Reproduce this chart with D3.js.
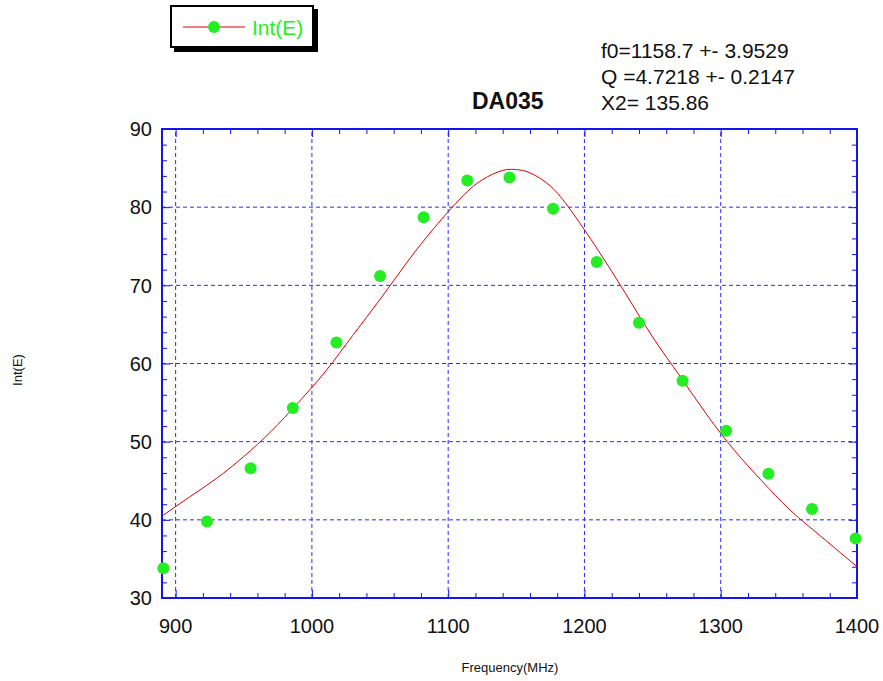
<!DOCTYPE html>
<html>
<head>
<meta charset="utf-8">
<script src="https://cdn.jsdelivr.net/npm/d3@7"></script>
<style>
  body { margin: 0; background: #fff; }
  svg text { font-family: "Liberation Sans", Arial, sans-serif; }
</style>
</head>
<body>
<div id="chart"></div>
<script>
// measured points
var freq = [891, 923, 955, 986, 1018, 1050, 1082, 1114, 1145, 1177, 1209, 1240, 1272, 1304, 1335, 1367, 1399];
var intE = [33.8, 39.8, 46.6, 54.3, 62.7, 71.2, 78.7, 83.4, 83.8, 79.8, 73.0, 65.2, 57.8, 51.4, 45.9, 41.4, 37.6];

// fitted curve
var fitFreq = [891, 910, 930, 950, 970, 990, 1010, 1030, 1050, 1070, 1090, 1110, 1125, 1140, 1150, 1160, 1175, 1190, 1210, 1230, 1250, 1270, 1290, 1310, 1330, 1350, 1370, 1400];
var fitVal  = [40.6, 42.9, 45.3, 48.1, 51.3, 55.0, 59.0, 63.6, 68.2, 73.0, 77.4, 81.3, 83.5, 84.7, 84.8, 84.4, 82.7, 79.6, 74.5, 69.0, 63.4, 58.4, 53.4, 48.9, 45.0, 41.4, 38.4, 34.0];

var xTicks = [900, 1000, 1100, 1200, 1300, 1400];
var yTicks = [30, 40, 50, 60, 70, 80, 90];
var fitText = ["f0=1158.7 +- 3.9529", "Q =4.7218 +- 0.2147", "X2= 135.86"];

var W = 883, H = 681;
var margin = {top: 129, right: 26, bottom: 83, left: 162};
var blue = "#1414f0", grid = "#2a2aff", green = "#22ee22", red = "#e00000";

var svg = d3.select("#chart").append("svg")
  .attr("width", W).attr("height", H);

var x = d3.scaleLinear().domain([890, 1400]).range([margin.left, W - margin.right]);
var y = d3.scaleLinear().domain([30, 90]).range([H - margin.bottom, margin.top]);

var x0 = x.range()[0], x1 = x.range()[1], y0 = y.range()[0], y1 = y.range()[1];

// grid
svg.append("g").selectAll("line")
  .data(xTicks.filter(function(d){ return d < 1400; }))
  .enter().append("line")
  .attr("x1", function(d){ return x(d); }).attr("x2", function(d){ return x(d); })
  .attr("y1", y0).attr("y2", y1)
  .style("stroke", grid).style("stroke-width", 1).style("stroke-dasharray", "4,3");
svg.append("g").selectAll("line")
  .data(yTicks.filter(function(d){ return d > 30 && d < 90; }))
  .enter().append("line")
  .attr("y1", function(d){ return y(d); }).attr("y2", function(d){ return y(d); })
  .attr("x1", x0).attr("x2", x1)
  .style("stroke", grid).style("stroke-width", 1).style("stroke-dasharray", "4,3");

// axes on all four sides, ticks inward
var xMinor = d3.range(900, 1401, 20);
var yMinor = d3.range(30, 91, 2);

function tickLen(d, step) { return (d % step === 0) ? 8 : 5; }

svg.append("g").attr("transform", "translate(0," + y0 + ")")
  .call(d3.axisBottom(x).tickValues(xMinor).tickSizeOuter(0).tickFormat(""))
  .call(function(g){
    g.select(".domain").remove();
    g.selectAll(".tick line").attr("y2", function(d){ return -tickLen(d, 100); }).style("stroke", blue);
  });
svg.append("g").attr("transform", "translate(0," + y1 + ")")
  .call(d3.axisTop(x).tickValues(xMinor).tickSizeOuter(0).tickFormat(""))
  .call(function(g){
    g.select(".domain").remove();
    g.selectAll(".tick line").attr("y2", function(d){ return tickLen(d, 100); }).style("stroke", blue);
  });
svg.append("g").attr("transform", "translate(" + x0 + ",0)")
  .call(d3.axisLeft(y).tickValues(yMinor).tickSizeOuter(0).tickFormat(""))
  .call(function(g){
    g.select(".domain").remove();
    g.selectAll(".tick line").attr("x2", function(d){ return tickLen(d, 10); }).style("stroke", blue);
  });
svg.append("g").attr("transform", "translate(" + x1 + ",0)")
  .call(d3.axisRight(y).tickValues(yMinor).tickSizeOuter(0).tickFormat(""))
  .call(function(g){
    g.select(".domain").remove();
    g.selectAll(".tick line").attr("x2", function(d){ return -tickLen(d, 10); }).style("stroke", blue);
  });

svg.append("rect")
  .attr("x", x0).attr("y", y1).attr("width", x1 - x0).attr("height", y0 - y1)
  .style("fill", "none").style("stroke", blue).style("stroke-width", 2);

// tick labels
svg.append("g").selectAll("text").data(xTicks).enter().append("text")
  .attr("x", function(d){ return x(d); }).attr("y", y0 + 35)
  .attr("text-anchor", "middle").style("font-size", "20px").style("fill", "#111")
  .text(function(d){ return d; });
svg.append("g").selectAll("text").data(yTicks).enter().append("text")
  .attr("x", x0 - 10).attr("y", function(d){ return y(d); }).attr("dy", "0.36em")
  .attr("text-anchor", "end").style("font-size", "20px").style("fill", "#111")
  .text(function(d){ return d; });

// axis titles
svg.append("text").attr("x", 510).attr("y", 672).attr("text-anchor", "middle")
  .style("font-size", "13px").style("fill", "#111").text("Frequency(MHz)");
svg.append("text").attr("transform", "translate(22,370) rotate(-90)").attr("text-anchor", "middle")
  .style("font-size", "13px").style("fill", "#111").text("Int(E)");

// fit curve
var fitData = fitFreq.map(function(f, i){ return [f, fitVal[i]]; });
svg.append("path").datum(fitData)
  .attr("d", d3.line().x(function(d){ return x(d[0]); }).y(function(d){ return y(d[1]); }).curve(d3.curveNatural))
  .style("fill", "none").style("stroke", red).style("stroke-width", 1);

// points
svg.append("g").selectAll("circle").data(freq).enter().append("circle")
  .attr("cx", function(d){ return x(d); }).attr("cy", function(d, i){ return y(intE[i]); })
  .attr("r", 6).style("fill", green);

// title and fit results
svg.append("text").attr("x", 472).attr("y", 109).style("font-size", "23px")
  .style("font-weight", "bold").style("fill", "#111").text("DA035");
svg.append("g").selectAll("text").data(fitText).enter().append("text")
  .attr("x", 601).attr("y", function(d, i){ return 58 + i * 26; })
  .style("font-size", "21px").style("fill", "#111").text(function(d){ return d; });

// legend
var lg = svg.append("g");
lg.append("rect").attr("x", 174).attr("y", 9).attr("width", 144).attr("height", 43).style("fill", "#000");
lg.append("rect").attr("x", 171).attr("y", 6).attr("width", 142).attr("height", 41)
  .style("fill", "#fff").style("stroke", "#000").style("stroke-width", 2);
lg.append("line").attr("x1", 183).attr("x2", 245).attr("y1", 27).attr("y2", 27)
  .style("stroke", red).style("stroke-width", 1);
lg.append("circle").attr("cx", 214).attr("cy", 27).attr("r", 6).style("fill", green);
lg.append("text").attr("x", 252).attr("y", 35).style("font-size", "21px").style("fill", green).text("Int(E)");
</script>
</body>
</html>
